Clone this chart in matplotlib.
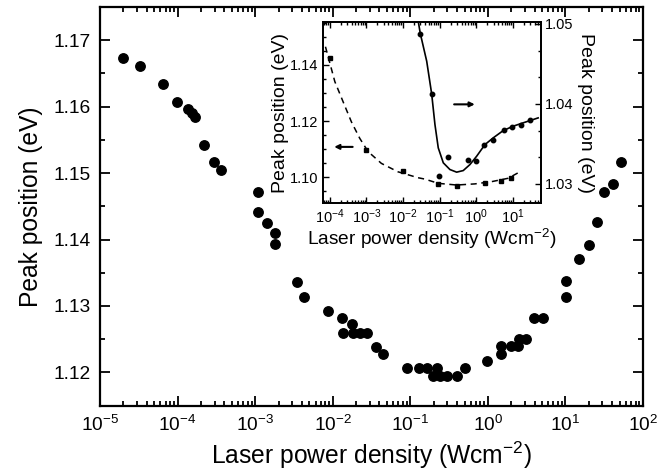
import numpy as np
import matplotlib
matplotlib.use("Agg")
import matplotlib.pyplot as plt
from matplotlib.ticker import LogLocator, LogFormatterMathtext, MultipleLocator, NullFormatter, FixedLocator

plt.rcParams['font.family'] = ['Liberation Sans', 'DejaVu Sans']
plt.rcParams['mathtext.fontset'] = 'custom'
plt.rcParams['mathtext.rm'] = 'Liberation Sans'
plt.rcParams['mathtext.it'] = 'Liberation Sans'
plt.rcParams['mathtext.default'] = 'regular'

# main data --------------------------------------------
power = [1.96e-5, 3.3e-5, 6.5e-5, 9.9e-5, 1.35e-4, 1.52e-4, 1.68e-4, 2.19e-4,
         2.92e-4, 3.6e-4, 1.09e-3, 1.09e-3, 1.44e-3, 1.80e-3, 1.78e-3,
         3.43e-3, 4.3e-3, 8.8e-3, 1.33e-2, 1.34e-2, 1.75e-2, 1.8e-2, 2.25e-2,
         2.74e-2, 3.6e-2, 4.48e-2, 8.98e-2, 0.131, 0.162, 0.219, 0.198, 0.242,
         0.294, 0.396, 0.507, 0.98, 1.47, 1.49, 1.96, 2.46, 2.5, 3.09, 3.97,
         5.08, 10.2, 10.2, 15.1, 20.3, 25.2, 31.4, 41.4, 51.5]
peak = [1.1673, 1.1661, 1.1634, 1.1607, 1.1596, 1.1590, 1.1585, 1.1542,
        1.1516, 1.1505, 1.1472, 1.1441, 1.1425, 1.1410, 1.1394,
        1.1336, 1.1314, 1.1292, 1.1282, 1.1260, 1.1273, 1.1260, 1.1260,
        1.1260, 1.1238, 1.1228, 1.1207, 1.1207, 1.1207, 1.1207, 1.1195, 1.1195,
        1.1195, 1.1195, 1.1207, 1.1217, 1.1228, 1.1239, 1.1239, 1.1239, 1.1250, 1.1250, 1.1282,
        1.1282, 1.1337, 1.1314, 1.1370, 1.1391, 1.1427, 1.1471, 1.1483, 1.1516]

# inset data (left axis, squares + dashed fit) -----------
sq_x = [1e-4, 1e-3, 1e-2, 0.09, 0.29, 1.7, 4.9, 8.9]
sq_y = [1.1426, 1.1097, 1.1024, 1.0975, 1.0970, 1.0979, 1.0987, 1.0999]
dash_x = [7.6e-5, 1.37e-4, 2.31e-4, 3.88e-4, 6.58e-4, 1.11e-3, 2.56e-3, 7.3e-3,
          0.0257, 0.0398, 0.0918, 0.292, 0.92, 2.63, 7.46, 15.6]
dash_y = [1.1465, 1.1341, 1.1269, 1.1198, 1.1139, 1.1092, 1.1050, 1.1020,
          1.0999, 1.0994, 1.0979, 1.0973, 1.0977, 1.0985, 1.0997, 1.1020]

# inset data (right axis, circles + solid fit) -----------
ci_x = [0.0297, 0.0607, 0.096, 0.166, 0.58, 0.96, 1.65, 2.91, 5.7, 9.6, 16.3, 29]
ci_y = [1.0488, 1.04125, 1.0310, 1.0333, 1.0330, 1.0328, 1.0348, 1.0355,
        1.0367, 1.0371, 1.0374, 1.0380]
solid_x = [0.02565, 0.0297, 0.0444, 0.0607, 0.0746, 0.0918, 0.126, 0.191, 0.292,
           0.442, 0.673, 1.03, 1.73, 2.91, 5.46, 10.2, 19.1, 49.2]
solid_y = [1.0505, 1.0488, 1.04534, 1.04125, 1.03741, 1.0345, 1.03263, 1.03179,
           1.03146, 1.03166, 1.03241, 1.03346, 1.03491, 1.03575, 1.03666, 1.03721,
           1.03763, 1.03825]

xlabel = 'Laser power density (Wcm$^{-2}$)'
ylabel = 'Peak position (eV)'

fig = plt.figure(figsize=(6.69, 4.76), dpi=100)

# main plot ----------------------------------------------
ax = fig.add_axes([0.1495, 0.1479, 0.8117, 0.8374])
ax.plot(power, peak, 'o', color='black', ms=6.8, mec='black')
ax.set_xscale('log')
ax.set_xlim(1e-5, 1e2)
ax.set_ylim(1.115, 1.175)
ax.xaxis.set_major_locator(LogLocator(base=10, numticks=20))
ax.xaxis.set_minor_locator(LogLocator(base=10, subs=np.arange(2, 10), numticks=20))
ax.xaxis.set_major_formatter(LogFormatterMathtext())
ax.xaxis.set_minor_formatter(NullFormatter())
ax.yaxis.set_major_locator(MultipleLocator(0.01))
ax.yaxis.set_minor_locator(MultipleLocator(0.005))
ax.yaxis.set_major_formatter(matplotlib.ticker.FormatStrFormatter('%.2f'))
ax.tick_params(which='both', direction='in', top=True, right=True, labelsize=13.8, width=1.3)
ax.tick_params(which='major', length=7, pad=7)
ax.tick_params(which='minor', length=3.5)
for s in ax.spines.values():
    s.set_linewidth(1.6)
ax.set_xlabel(xlabel, fontsize=17.7, labelpad=3)
ax.set_ylabel(ylabel, fontsize=17.7, labelpad=7)

# inset --------------------------------------------------
ins = fig.add_axes([0.4824, 0.5735, 0.3259, 0.3803])
ins.plot(dash_x, dash_y, '--', color='black', lw=1.1, dashes=(4, 3))
ins.plot(sq_x, sq_y, 's', color='black', ms=3)
ins.set_xscale('log')
ins.set_xlim(6.4e-5, 58)
ins.set_ylim(1.0909, 1.1553)
ins.xaxis.set_major_locator(FixedLocator([1e-4, 1e-3, 1e-2, 1e-1, 1, 10]))
ins.xaxis.set_minor_locator(LogLocator(base=10, subs=np.arange(2, 10), numticks=20))
ins.xaxis.set_major_formatter(LogFormatterMathtext())
ins.xaxis.set_minor_formatter(NullFormatter())
ins.yaxis.set_major_locator(MultipleLocator(0.02))
ins.yaxis.set_minor_locator(MultipleLocator(0.005))
ins.yaxis.set_major_formatter(matplotlib.ticker.FormatStrFormatter('%.2f'))
ins.tick_params(which='both', direction='in', top=True, labelsize=10.5, width=1)
ins.tick_params(which='major', length=4, pad=3)
ins.tick_params(which='minor', length=2)
ins.set_xlabel(xlabel, fontsize=13.8, labelpad=1)
ins.set_ylabel(ylabel, fontsize=14, labelpad=1)

ins2 = ins.twinx()
ins2.plot(solid_x, solid_y, '-', color='black', lw=1.2)
ins2.plot(ci_x, ci_y, 'o', color='black', ms=3.2)
ins2.set_ylim(1.0276, 1.05025)
ins2.yaxis.set_major_locator(MultipleLocator(0.01))
ins2.yaxis.set_minor_locator(MultipleLocator(0.01 / 3))
ins2.yaxis.set_major_formatter(matplotlib.ticker.FormatStrFormatter('%.2f'))
ins2.tick_params(which='both', direction='in', labelsize=10.5, width=1)
ins2.tick_params(which='major', length=4, pad=3)
ins2.tick_params(which='minor', length=2)
ins2.set_ylabel(ylabel, fontsize=14, rotation=-90, labelpad=15)
for a in (ins, ins2):
    for s in a.spines.values():
        s.set_linewidth(1.3)

# arrows
ins.annotate('', xy=(0.04, 0.31), xytext=(0.15, 0.31), xycoords='axes fraction',
             arrowprops=dict(arrowstyle='-|>', color='black', lw=1.5, mutation_scale=7))
ins.annotate('', xy=(0.71, 0.545), xytext=(0.59, 0.545), xycoords='axes fraction',
             arrowprops=dict(arrowstyle='-|>', color='black', lw=1.5, mutation_scale=7))

fig.savefig('out.png', dpi=100)
